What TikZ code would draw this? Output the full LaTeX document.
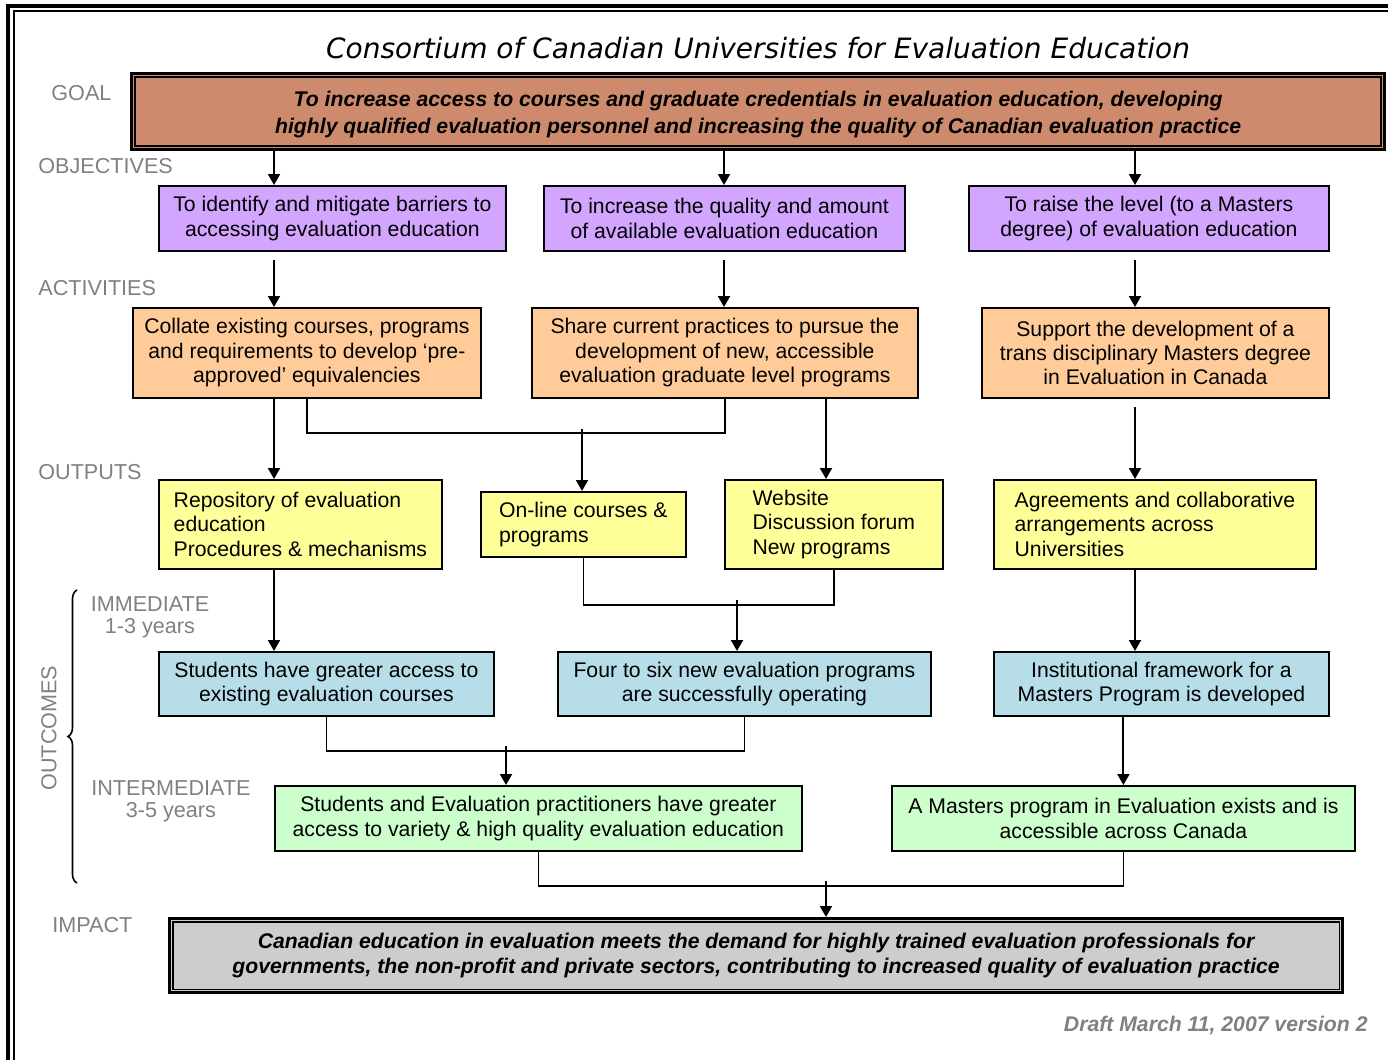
\documentclass[tikz,border=0pt]{standalone}
\usepackage{fontspec}
\setmainfont{Liberation Sans}
\newfontfamily\titlefont{DejaVu Sans}
\usetikzlibrary{calc,positioning,arrows.meta,decorations.pathreplacing}

\definecolor{GoalFill}{RGB}{206,138,108}
\definecolor{ObjFill}{RGB}{210,165,255}
\definecolor{ActFill}{RGB}{255,204,153}
\definecolor{OutFill}{RGB}{255,255,153}
\definecolor{ImmFill}{RGB}{183,221,232}
\definecolor{IntFill}{RGB}{204,255,204}
\definecolor{ImpactFill}{RGB}{205,205,205}
\definecolor{StageGray}{RGB}{128,128,128}

\begin{document}
\begin{tikzpicture}[x=0.5pt,y=-0.5pt,
  every node/.style={align=center,font=\fontsize{10.6}{12.2}\selectfont},
  box/.style={draw,line width=0.9pt,anchor=north west,inner sep=0pt},
  objbox/.style={box,fill=ObjFill,minimum height=32.5pt},
  actbox/.style={box,fill=ActFill,minimum height=45pt},
  outbox/.style={box,fill=OutFill,align=left},
  immbox/.style={box,fill=ImmFill,minimum height=32pt},
  intbox/.style={box,fill=IntFill,minimum height=32.5pt},
  framed/.style={box,line width=1.6pt,font=\fontsize{10.6}{13.2}\selectfont\bfseries\itshape},
  stage/.style={text=StageGray,anchor=west,inner sep=0pt,font=\fontsize{10.8}{11}\selectfont},
  flow/.style={line width=1pt,-{Triangle[length=5.5pt,width=6pt]}},
  joint/.style={line width=0.8pt}]
\useasboundingbox (0,0) rectangle (1388,1060);
\draw[line width=1.8pt] (8,1070) -- (8,6) -- (1400,6);
\draw[line width=0.9pt] (14,1070) -- (14,11) -- (1400,11);

\node (Title) at (758,48) {\titlefont\itshape\fontsize{14}{16}\selectfont Consortium of Canadian Universities for Evaluation Education};

\node[stage] (GoalLabel) at (51,93) {GOAL};
\node[stage] (ObjectivesLabel) at (38,166) {OBJECTIVES};
\node[stage] (ActivitiesLabel) at (38,288) {ACTIVITIES};
\node[stage] (OutputsLabel) at (38,472) {OUTPUTS};
\node[stage,anchor=center] (ImmediateLabel) at (150,617) {IMMEDIATE\\1-3 years};
\node[stage,anchor=center] (IntermediateLabel) at (171,801) {INTERMEDIATE\\3-5 years};
\node[stage] (ImpactLabel) at (52,925) {IMPACT};
\node[stage,anchor=center,rotate=90] (OutcomesLabel) at (49,728) {OUTCOMES};
\draw[line width=0.8pt,decorate,decoration={brace,amplitude=4.5pt}] (77,883) -- (77,590);

\node[framed,fill=GoalFill,minimum width=626.5pt,minimum height=38pt] (Goal) at (130,72) {\rule{0pt}{10.5pt}To increase access to courses and graduate credentials in evaluation education, developing\\highly qualified evaluation personnel and increasing the quality of Canadian evaluation practice};
\draw[line width=0.8pt] ($(Goal.north west)+(2.6pt,-2.6pt)$) rectangle ($(Goal.south east)+(-2.6pt,2.6pt)$);

\node[objbox,minimum width=173.5pt] (ObjAccess) at (158,185) {To identify and mitigate barriers to\\accessing evaluation education};
\node[objbox,minimum width=180.5pt] (ObjQuality) at (543,185) {To increase the quality and amount\\of available evaluation education};
\node[objbox,minimum width=180pt] (ObjMasters) at (968,185) {To raise the level (to a Masters\\degree) of evaluation education};

\node[actbox,minimum width=174pt] (ActCollate) at (132,307) {Collate existing courses, programs\\and requirements to develop `pre-\\approved' equivalencies};
\node[actbox,minimum width=193pt] (ActShare) at (531,307) {Share current practices to pursue the\\development of new, accessible\\evaluation graduate level programs};
\node[actbox,minimum width=173.5pt] (ActSupport) at (981,307) {Support the development of a\\trans disciplinary Masters degree\\in Evaluation in Canada};

\node[outbox,minimum width=141.5pt,minimum height=44.5pt] (OutRepository) at (158,479) {Repository of evaluation\\education\\Procedures \& mechanisms};
\node[outbox,minimum width=102.5pt,minimum height=32.5pt] (OutOnline) at (480,491) {On-line courses \&\\programs};
\node[outbox,minimum width=109pt,minimum height=44.5pt] (OutWebsite) at (724,479) {Website\\Discussion forum\\New programs};
\node[outbox,minimum width=161pt,minimum height=44.5pt] (OutAgreements) at (993,479) {Agreements and collaborative\\arrangements across\\Universities};

\node[immbox,minimum width=167.5pt] (ImmAccess) at (158,651) {Students have greater access to\\existing evaluation courses};
\node[immbox,minimum width=186.5pt] (ImmPrograms) at (557,651) {Four to six new evaluation programs\\are successfully operating};
\node[immbox,minimum width=167.5pt] (ImmFramework) at (993,651) {Institutional framework for a\\Masters Program is developed};

\node[intbox,minimum width=263.5pt] (IntVariety) at (274,785) {Students and Evaluation practitioners have greater\\access to variety \& high quality evaluation education};
\node[intbox,minimum width=231.5pt] (IntMasters) at (891,785) {A Masters program in Evaluation exists and is\\accessible across Canada};

\node[framed,fill=ImpactFill,minimum width=586.5pt,minimum height=37pt,font=\fontsize{10.6}{12.2}\selectfont\bfseries\itshape] (Impact) at (168,917) {Canadian education in evaluation meets the demand for highly trained evaluation professionals for\\governments, the non-profit and private sectors, contributing to increased quality of evaluation practice};
\draw[line width=0.8pt] ($(Impact.north west)+(2.4pt,-2.4pt)$) rectangle ($(Impact.south east)+(-2.4pt,2.4pt)$);

\node[anchor=east,inner sep=0pt,text=StageGray,font=\fontsize{10.6}{12}\selectfont\bfseries\itshape] (Draft) at (1368,1025) {Draft March 11, 2007 version 2};

\coordinate (ColA) at (274,0);
\coordinate (ColB) at (724,0);
\coordinate (ColC) at (1135,0);
\coordinate (ColD) at (826,0);
\coordinate (JoinAct) at (582,433);
\coordinate (JoinOut) at (737,605);
\coordinate (JoinImm) at (506,751);
\coordinate (JoinInt) at (826,886);

\foreach \col/\obj/\act in {ColA/ObjAccess/ActCollate,ColB/ObjQuality/ActShare,ColC/ObjMasters/ActSupport}{
  \draw[flow] (Goal.south -| \col) -- (\obj.north -| \col);
  \draw[flow,shorten <=4pt] (\obj.south -| \col) -- (\act.north -| \col);
}

\draw[flow] (ActCollate.south -| ColA) -- (OutRepository.north -| ColA);
\draw[joint] (ActCollate.south) |- (JoinAct) -| (ActShare.south);
\draw[flow] ([yshift=2pt]JoinAct) -- (OutOnline.north -| JoinAct);
\draw[flow] (ActShare.south -| ColD) -- (OutWebsite.north -| ColD);
\draw[flow,shorten <=4pt] (ActSupport.south -| ColC) -- (OutAgreements.north -| ColC);

\draw[flow] (OutRepository.south -| ColA) -- (ImmAccess.north -| ColA);
\draw[joint] (OutOnline.south) |- (JoinOut) -| (OutWebsite.south);
\draw[flow] ([yshift=2.5pt]JoinOut) -- (ImmPrograms.north -| JoinOut);
\draw[flow] (OutAgreements.south -| ColC) -- (ImmFramework.north -| ColC);

\draw[joint] (ImmAccess.south) |- (JoinImm) -| (ImmPrograms.south);
\draw[flow] ([yshift=2.5pt]JoinImm) -- (IntVariety.north -| JoinImm);
\draw[flow] (ImmFramework.south -| IntMasters.north) -- (IntMasters.north);

\draw[joint] (IntVariety.south) |- (JoinInt) -| (IntMasters.south);
\draw[flow] ([yshift=2.5pt]JoinInt) -- (Impact.north -| JoinInt);
\end{tikzpicture}
\end{document}
